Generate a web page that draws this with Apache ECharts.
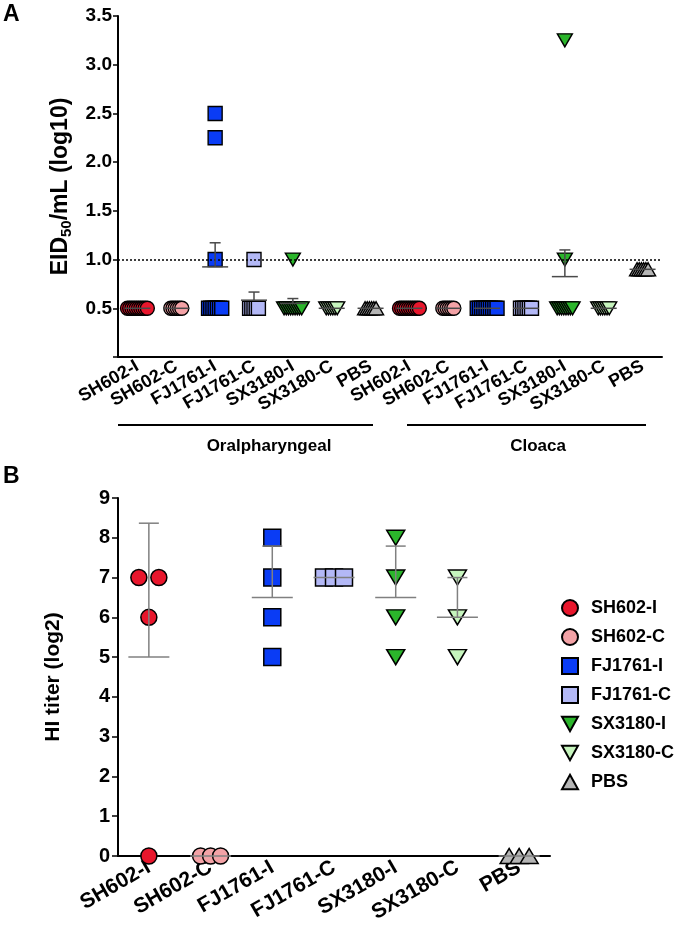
<!DOCTYPE html>
<html>
<head>
<meta charset="utf-8">
<script src="https://cdn.jsdelivr.net/npm/echarts@6/dist/echarts.min.js"></script>
<style>
html,body{margin:0;padding:0;background:#fff;}
#chart{width:675px;height:928px;}
</style>
</head>
<body>
<div id="chart"></div>
<script>
// ---------- data ----------
const groups = ['SH602-I','SH602-C','FJ1761-I','FJ1761-C','SX3180-I','SX3180-C','PBS'];
const categoriesA = ['SH602-I','SH602-C','FJ1761-I','FJ1761-C','SX3180-I','SX3180-C','PBS',
                     'SH602-I','SH602-C','FJ1761-I','FJ1761-C','SX3180-I','SX3180-C','PBS'];
const categoriesB = ['SH602-I','SH602-C','FJ1761-I','FJ1761-C','SX3180-I','SX3180-C','PBS'];
// Panel A: virus titre, oropharyngeal swabs (log10 EID50/mL)
const oralValues = [
  [0.5,0.5,0.5,0.5,0.5,0.5,0.5,0.5,0.5,0.5],
  [0.5,0.5,0.5,0.5,0.5,0.5],
  [2.5,2.25,1.0,0.5,0.5,0.5,0.5,0.5,0.5,0.5],
  [1.0,0.5,0.5,0.5,0.5,0.5],
  [1.0,0.5,0.5,0.5,0.5,0.5,0.5,0.5,0.5,0.5],
  [0.5,0.5,0.5,0.5,0.5,0.5],
  [0.5,0.5,0.5,0.5,0.5,0.5]
];
// Panel A: cloacal swabs
const cloacaValues = [
  [0.5,0.5,0.5,0.5,0.5,0.5,0.5,0.5,0.5,0.5],
  [0.5,0.5,0.5,0.5,0.5,0.5],
  [0.5,0.5,0.5,0.5,0.5,0.5,0.5,0.5,0.5,0.5],
  [0.5,0.5,0.5,0.5,0.5,0.5],
  [3.25,1.0,0.5,0.5,0.5,0.5,0.5,0.5,0.5,0.5],
  [0.5,0.5,0.5,0.5,0.5,0.5],
  [0.9,0.9,0.9,0.9,0.9,0.9]
];
// Panel B: HI titre (log2)
const hiValues = [
  [7,7,6,0],
  [0,0,0],
  [8,7,6,5],
  [7,7,7],
  [8,7,6,5],
  [7,6,5],
  [0,0,0]
];
const yTicksA = [0.5,1.0,1.5,2.0,2.5,3.0,3.5];
const detectionLimit = 1.0;

// ---------- styles ----------
const FONT = 'Liberation Sans, Arial, Helvetica, sans-serif';
const colors = ['#e8162c','#f3a2a6','#0a3cf5','#b3b8f6','#2bb52b','#c6f5bd','#b5b5b5'];
const symbols = ['circle','circle','rect','rect','triangle','triangle','triangle'];
const rotations = [0,0,0,0,180,180,0];
const legendIcons = ['circle','circle','rect','rect','path://M0,0 L10,0 L5,9 Z','path://M0,0 L10,0 L5,9 Z','path://M5,0 L10,9 L0,9 Z'];
const sizeA = [14,14,14,14,[15,13],[15,13],[15,13]];
const sizeB = [16,16,17,17,[18,15],[18,15],[18,15]];

// spread duplicate values horizontally (pixel offsets), like a column scatter
function spread(values, cat, halfFn) {
  const counts = {};
  values.forEach(v => { counts[v] = (counts[v] || 0) + 1; });
  const seen = {};
  return values.map(v => {
    const k = counts[v];
    const i = seen[v] || 0; seen[v] = i + 1;
    let dx = 0;
    if (k > 1) { const h = halfFn(k); dx = -h + i * (2 * h / (k - 1)); }
    return { value: [cat, v], symbolOffset: [dx, 0] };
  });
}
const halfA = k => Math.min(10, (k - 1) * 1.1);
const halfB = k => 10;

function stats(vals, useSem) {
  const n = vals.length;
  const m = vals.reduce((a, b) => a + b, 0) / n;
  const ss = vals.reduce((a, b) => a + (b - m) * (b - m), 0);
  const sd = n > 1 ? Math.sqrt(ss / (n - 1)) : 0;
  return [m, m + (useSem ? sd / Math.sqrt(n) : sd)];
}

function errRender(halfMean, halfCap, color) {
  return function (params, api) {
    const c = api.value(0), m = api.value(1), u = api.value(2);
    const p = api.coord([c, m]);
    const q = api.coord([c, u]);
    const st = { stroke: color, lineWidth: 1.5 };
    const children = [{ type: 'line', shape: { x1: p[0] - halfMean, y1: p[1], x2: p[0] + halfMean, y2: p[1] }, style: st }];
    if (p[1] - q[1] > 0.5) {
      children.push({ type: 'line', shape: { x1: p[0], y1: p[1], x2: q[0], y2: q[1] }, style: st });
      children.push({ type: 'line', shape: { x1: q[0] - halfCap, y1: q[1], x2: q[0] + halfCap, y2: q[1] }, style: st });
    }
    return { type: 'group', children: children };
  };
}

const series = [];
// Panel A scatter
groups.forEach((g, i) => {
  series.push({
    name: g, type: 'scatter', xAxisIndex: 0, yAxisIndex: 0,
    symbol: symbols[i], symbolRotate: rotations[i], symbolSize: sizeA[i],
    itemStyle: { color: colors[i], borderColor: '#000', borderWidth: 1.4, opacity: 1 },
    data: spread(oralValues[i], i, halfA).concat(spread(cloacaValues[i], i + 7, halfA)),
    z: 2, silent: true
  });
});
// Panel B scatter
groups.forEach((g, i) => {
  series.push({
    name: g, type: 'scatter', xAxisIndex: 1, yAxisIndex: 1,
    symbol: symbols[i], symbolRotate: rotations[i], symbolSize: sizeB[i],
    itemStyle: { color: colors[i], borderColor: '#000', borderWidth: 1.5, opacity: 1 },
    data: spread(hiValues[i], i, halfB),
    z: 2, silent: true
  });
});
// Panel A mean + SEM
const errA = [];
oralValues.forEach((v, i) => { const s = stats(v, true); errA.push([i, s[0], s[1]]); });
cloacaValues.forEach((v, i) => { const s = stats(v, true); errA.push([i + 7, s[0], s[1]]); });
series.push({
  type: 'custom', xAxisIndex: 0, yAxisIndex: 0, z: 5, silent: true,
  renderItem: errRender(13, 5.5, '#4a4a4a'), data: errA,
  markLine: {
    silent: true, symbol: 'none', label: { show: false },
    lineStyle: { type: [2, 2], color: '#000', width: 1.5 },
    data: [{ yAxis: detectionLimit }]
  }
});
// Panel B mean + SD
const errB = hiValues.map((v, i) => { const s = stats(v, false); return [i, s[0], s[1]]; });
series.push({
  type: 'custom', xAxisIndex: 1, yAxisIndex: 1, z: 5, silent: true,
  renderItem: errRender(20.5, 10, '#808080'), data: errB
});

const axisLineStyle = { color: '#000', width: 2 };
const chart = echarts.init(document.getElementById('chart'), null, { renderer: 'canvas' });
chart.setOption({
  backgroundColor: '#fff',
  animation: false,
  textStyle: { fontFamily: FONT },
  grid: [
    { left: 118, top: 16, width: 544, height: 341 },
    { left: 118, top: 498, width: 432, height: 358 }
  ],
  xAxis: [
    {
      type: 'category', gridIndex: 0, data: categoriesA, boundaryGap: true,
      axisLine: { lineStyle: axisLineStyle },
      axisTick: { alignWithLabel: true, length: 5, lineStyle: { color: '#000', width: 1.5 } },
      axisLabel: { interval: 0, rotate: 30, margin: 8, fontSize: 18, fontWeight: 'bold', color: '#000', fontFamily: FONT },
      splitLine: { show: false }
    },
    {
      type: 'category', gridIndex: 1, data: categoriesB, boundaryGap: true,
      axisLine: { lineStyle: axisLineStyle },
      axisTick: { alignWithLabel: true, length: 6, lineStyle: { color: '#000', width: 1.5 } },
      axisLabel: { interval: 0, rotate: 30, margin: 10, fontSize: 21, fontWeight: 'bold', color: '#000', fontFamily: FONT },
      splitLine: { show: false }
    }
  ],
  yAxis: [
    {
      type: 'value', gridIndex: 0, min: 0, max: 3.5, interval: 0.5,
      name: '{n|EID}{s|50}{n|/mL (log10)}', nameLocation: 'middle', nameGap: 40,
      nameTextStyle: {
        rich: {
          n: { fontSize: 23, fontWeight: 'bold', color: '#000', fontFamily: FONT, lineHeight: 28, verticalAlign: 'middle' },
          s: { fontSize: 15, fontWeight: 'bold', color: '#000', fontFamily: FONT, lineHeight: 28, verticalAlign: 'bottom' }
        }
      },
      axisLine: { show: true, lineStyle: axisLineStyle },
      axisTick: { show: true, length: 5, lineStyle: { color: '#000', width: 1.5 } },
      axisLabel: {
        margin: 6, fontSize: 19, fontWeight: 'bold', color: '#000', fontFamily: FONT,
        formatter: v => (yTicksA.indexOf(v) >= 0 ? v.toFixed(1) : '')
      },
      splitLine: { show: false }
    },
    {
      type: 'value', gridIndex: 1, min: 0, max: 9, interval: 1,
      name: 'HI titer (log2)', nameLocation: 'middle', nameGap: 54,
      nameTextStyle: { fontSize: 21, fontWeight: 'bold', color: '#000', fontFamily: FONT },
      axisLine: { show: true, lineStyle: axisLineStyle },
      axisTick: { show: true, length: 6, lineStyle: { color: '#000', width: 1.5 } },
      axisLabel: { margin: 8, fontSize: 20, fontWeight: 'bold', color: '#000', fontFamily: FONT },
      splitLine: { show: false }
    }
  ],
  legend: {
    orient: 'vertical', left: 561, top: 599, padding: 0,
    data: groups.map((g, i) => ({ name: g, icon: legendIcons[i] })),
    itemWidth: 16, itemHeight: 16, itemGap: 11,
    selectedMode: false,
    textStyle: { fontSize: 18, fontWeight: 'bold', color: '#000', fontFamily: FONT, padding: [0, 0, 0, 8] }
  },
  graphic: [
    { type: 'text', left: 3, top: 3, style: { text: 'A', fontSize: 23, fontWeight: 'bold', fill: '#000', fontFamily: FONT } },
    { type: 'text', left: 3, top: 465, style: { text: 'B', fontSize: 23, fontWeight: 'bold', fill: '#000', fontFamily: FONT } },
    { type: 'line', shape: { x1: 118, y1: 425, x2: 373, y2: 425 }, style: { stroke: '#000', lineWidth: 2 } },
    { type: 'line', shape: { x1: 407, y1: 425, x2: 646, y2: 425 }, style: { stroke: '#000', lineWidth: 2 } },
    { type: 'text', x: 269, y: 446, style: { text: 'Oralpharyngeal', fontSize: 17, fontWeight: 'bold', fill: '#000', fontFamily: FONT, align: 'center', verticalAlign: 'middle' } },
    { type: 'text', x: 538, y: 446, style: { text: 'Cloaca', fontSize: 17, fontWeight: 'bold', fill: '#000', fontFamily: FONT, align: 'center', verticalAlign: 'middle' } }
  ],
  series: series
});
</script>
</body>
</html>
